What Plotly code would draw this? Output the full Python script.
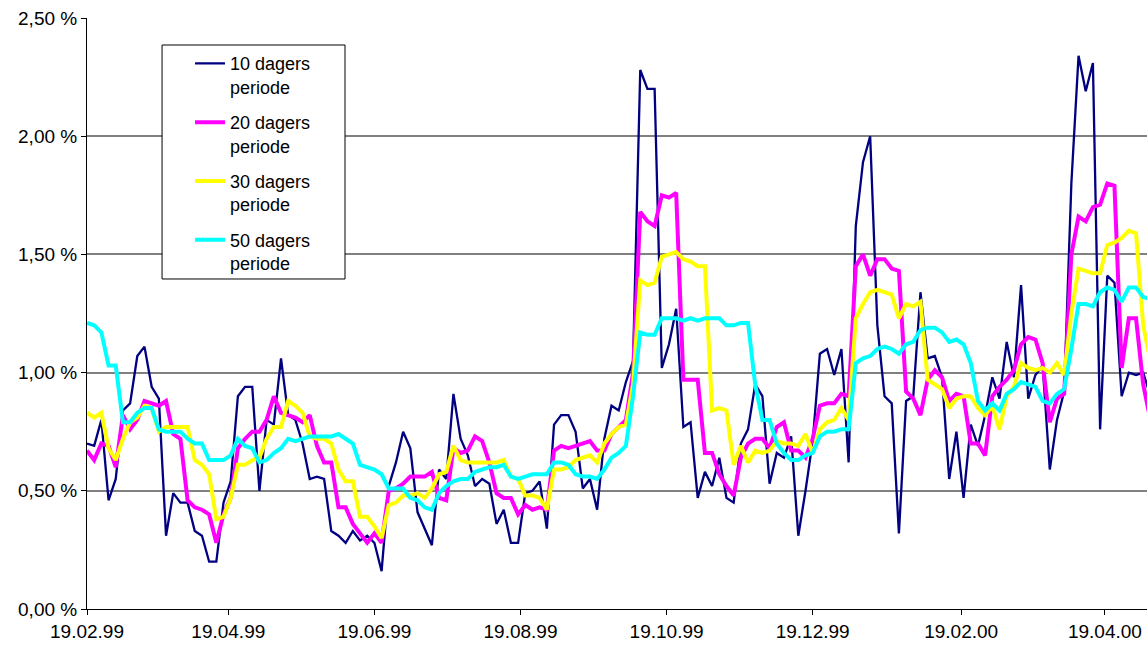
import pandas as pd
import plotly.graph_objects as go

# Observation dates (every third calendar day from 19.02.99)
dates = pd.date_range("1999-02-19", periods=149, freq="3D")

# Volatility in percent
vol_10 = [
    0.70, 0.69, 0.80, 0.46, 0.55, 0.84, 0.87, 1.07, 1.11, 0.94,
    0.89, 0.31, 0.49, 0.45, 0.45, 0.33, 0.31, 0.20, 0.20, 0.45,
    0.54, 0.90, 0.94, 0.94, 0.50, 0.80, 0.78, 1.06, 0.82, 0.80,
    0.70, 0.55, 0.56, 0.55, 0.33, 0.31, 0.28, 0.33, 0.29, 0.31,
    0.28, 0.16, 0.52, 0.62, 0.75, 0.68, 0.41, 0.34, 0.27, 0.59,
    0.55, 0.91, 0.72, 0.65, 0.52, 0.55, 0.53, 0.36, 0.42, 0.28,
    0.28, 0.49, 0.50, 0.54, 0.34, 0.78, 0.82, 0.82, 0.75, 0.51,
    0.55, 0.42, 0.72, 0.86, 0.84, 0.96, 1.05, 2.28, 2.20, 2.20,
    1.02, 1.12, 1.27, 0.77, 0.79, 0.47, 0.58, 0.52, 0.64, 0.47,
    0.45, 0.70, 0.76, 0.95, 0.90, 0.53, 0.66, 0.64, 0.73, 0.31,
    0.50, 0.71, 1.08, 1.10, 0.99, 1.10, 0.62, 1.62, 1.89, 2.00,
    1.20, 0.90, 0.87, 0.32, 0.88, 0.90, 1.34, 1.06, 1.07, 0.98,
    0.55, 0.75, 0.47, 0.78, 0.69, 0.82, 0.98, 0.89, 1.13, 0.98,
    1.37, 0.89, 0.99, 1.03, 0.59, 0.80, 0.92, 1.80, 2.34, 2.19,
    2.31, 0.76, 1.41, 1.38, 0.90, 1.00, 0.99, 1.00, 0.90,
]
vol_20 = [
    0.67, 0.63, 0.70, 0.69, 0.60, 0.82, 0.76, 0.80, 0.88, 0.87,
    0.86, 0.88, 0.74, 0.72, 0.46, 0.43, 0.42, 0.40, 0.28, 0.40,
    0.47, 0.68, 0.72, 0.75, 0.75, 0.80, 0.90, 0.83, 0.82, 0.81,
    0.79, 0.82, 0.69, 0.62, 0.62, 0.43, 0.43, 0.36, 0.32, 0.28,
    0.32, 0.28, 0.50, 0.51, 0.53, 0.56, 0.56, 0.56, 0.58, 0.47,
    0.46, 0.68, 0.66, 0.67, 0.73, 0.71, 0.62, 0.49, 0.47, 0.47,
    0.40, 0.44, 0.42, 0.43, 0.42, 0.67, 0.69, 0.68, 0.69, 0.70,
    0.71, 0.67, 0.67, 0.74, 0.77, 0.80, 1.00, 1.68, 1.64, 1.62,
    1.75, 1.74, 1.76, 0.97, 0.97, 0.97, 0.66, 0.66, 0.57, 0.52,
    0.48, 0.64, 0.70, 0.72, 0.72, 0.68, 0.77, 0.79, 0.67, 0.67,
    0.64, 0.72, 0.86, 0.87, 0.87, 0.91, 0.90, 1.45, 1.50, 1.41,
    1.48, 1.48, 1.44, 1.43, 0.92, 0.89, 0.82, 0.97, 1.01, 0.98,
    0.88, 0.91, 0.90, 0.70, 0.70, 0.65, 0.90, 0.94, 0.97, 1.01,
    1.12, 1.15, 1.14, 1.04, 0.79, 0.89, 0.91, 1.50, 1.66, 1.64,
    1.70, 1.71, 1.80, 1.79, 1.02, 1.23, 1.23, 0.95, 0.80,
]
vol_30 = [
    0.83, 0.81, 0.83, 0.68, 0.63, 0.72, 0.79, 0.81, 0.86, 0.85,
    0.75, 0.77, 0.77, 0.77, 0.77, 0.63, 0.61, 0.57, 0.38, 0.39,
    0.47, 0.61, 0.61, 0.63, 0.64, 0.72, 0.77, 0.77, 0.88, 0.86,
    0.83, 0.73, 0.72, 0.72, 0.70, 0.59, 0.54, 0.54, 0.39, 0.39,
    0.35, 0.30, 0.44, 0.45, 0.48, 0.48, 0.49, 0.47, 0.51, 0.57,
    0.58, 0.69, 0.63, 0.62, 0.62, 0.62, 0.62, 0.62, 0.63, 0.56,
    0.55, 0.48, 0.48, 0.47, 0.42, 0.59, 0.59, 0.60, 0.63, 0.64,
    0.65, 0.62, 0.70, 0.74, 0.77, 0.78, 0.95, 1.39, 1.37, 1.38,
    1.49, 1.50, 1.51, 1.48, 1.47, 1.45, 1.45, 0.84, 0.85, 0.84,
    0.61, 0.69, 0.62, 0.67, 0.66, 0.67, 0.71, 0.70, 0.70, 0.69,
    0.74, 0.66, 0.76, 0.79, 0.80, 0.85, 0.80, 1.23, 1.29, 1.34,
    1.35, 1.34, 1.33, 1.23, 1.29, 1.28, 1.30, 0.97, 0.95, 0.93,
    0.85, 0.89, 0.90, 0.90, 0.85, 0.82, 0.86, 0.76, 0.90, 0.94,
    1.04, 1.02, 1.01, 1.02, 1.00, 1.04, 0.99, 1.25, 1.44, 1.43,
    1.42, 1.42, 1.54, 1.55, 1.57, 1.60, 1.59, 1.20, 1.05,
]
vol_50 = [
    1.21, 1.20, 1.17, 1.03, 1.03, 0.79, 0.79, 0.83, 0.85, 0.85,
    0.76, 0.75, 0.75, 0.75, 0.72, 0.70, 0.70, 0.63, 0.63, 0.63,
    0.65, 0.72, 0.69, 0.68, 0.62, 0.63, 0.66, 0.68, 0.72, 0.71,
    0.72, 0.73, 0.73, 0.73, 0.73, 0.74, 0.72, 0.70, 0.61, 0.60,
    0.59, 0.57, 0.51, 0.51, 0.51, 0.47, 0.46, 0.43, 0.42, 0.49,
    0.52, 0.54, 0.55, 0.55, 0.58, 0.59, 0.60, 0.60, 0.61, 0.56,
    0.55, 0.56, 0.57, 0.57, 0.57, 0.62, 0.62, 0.61, 0.57, 0.56,
    0.56, 0.55, 0.59, 0.64, 0.66, 0.69, 0.90, 1.17, 1.16, 1.16,
    1.23, 1.23, 1.23, 1.22, 1.23, 1.22, 1.23, 1.23, 1.23, 1.20,
    1.20, 1.21, 1.21, 0.95, 0.80, 0.80, 0.70, 0.66, 0.63, 0.63,
    0.65, 0.66, 0.73, 0.75, 0.75, 0.76, 0.76, 1.04, 1.06, 1.07,
    1.10, 1.11, 1.10, 1.08, 1.12, 1.13, 1.18, 1.19, 1.19, 1.17,
    1.13, 1.14, 1.12, 1.04, 0.88, 0.84, 0.87, 0.84, 0.91, 0.93,
    0.96, 0.95, 0.94, 0.88, 0.87, 0.91, 0.93, 1.10, 1.29, 1.29,
    1.28, 1.34, 1.36, 1.35, 1.30, 1.36, 1.36, 1.32, 1.31,
]

series_names = ["10 dagers<br>periode", "20 dagers<br>periode",
                "30 dagers<br>periode", "50 dagers<br>periode"]
series_values = [vol_10, vol_20, vol_30, vol_50]
series_colors = ["#000080", "#FF00FF", "#FFFF00", "#00FFFF"]
series_widths = [2.3, 4, 4, 4]

x_tick_dates = ["1999-02-19", "1999-04-19", "1999-06-19", "1999-08-19",
                "1999-10-19", "1999-12-19", "2000-02-19", "2000-04-19"]
y_tick_vals = [0, 0.5, 1.0, 1.5, 2.0, 2.5]
y_tick_text = ["0,00 %", "0,50 %", "1,00 %", "1,50 %", "2,00 %", "2,50 %"]

FONT = "Liberation Sans, Arial, sans-serif"

fig = go.Figure()
for i, (name, vals, col, w) in enumerate(zip(series_names, series_values,
                                             series_colors, series_widths)):
    fig.add_trace(go.Scatter(
        x=dates, y=vals, mode="lines", name=name,
        line=dict(color=col, width=w),
        legendgroup=f"g{i}",
    ))

# legend frame
fig.add_shape(type="rect", xref="paper", yref="paper",
              x0=0.0708, x1=0.2434, y0=0.5584, y1=0.9543,
              line=dict(color="black", width=1), fillcolor="white",
              layer="above")

fig.update_layout(
    width=1147, height=654,
    margin=dict(l=87, r=0, t=18, b=45),
    paper_bgcolor="white", plot_bgcolor="white",
    font=dict(family=FONT, size=19, color="black"),
    showlegend=True,
    legend=dict(
        x=0.0972, xanchor="left", y=0.954, yanchor="top",
        bgcolor="rgba(0,0,0,0)", borderwidth=0,
        font=dict(family=FONT, size=18, color="black"),
        valign="top", tracegroupgap=9,
    ),
    xaxis=dict(
        type="date",
        range=["1999-02-19", "2000-05-06 14:00"],
        tickvals=x_tick_dates, tickformat="%d.%m.%y",
        ticks="outside", ticklen=5, tickcolor="black",
        showline=True, linecolor="black", linewidth=1,
        showgrid=False, zeroline=False,
        tickfont=dict(family=FONT, size=19, color="black"),
    ),
    yaxis=dict(
        range=[0, 2.5],
        tickvals=y_tick_vals, ticktext=y_tick_text,
        ticks="outside", ticklen=5, tickcolor="black",
        showline=True, linecolor="black", linewidth=1,
        showgrid=True, gridcolor="#808080", gridwidth=1.5,
        zeroline=False,
        tickfont=dict(family=FONT, size=19, color="black"),
    ),
)

fig.write_html("out.html",
               config={"displayModeBar": False},
               post_script="document.body.style.margin='0';"
                           "document.body.style.overflow='hidden';")
